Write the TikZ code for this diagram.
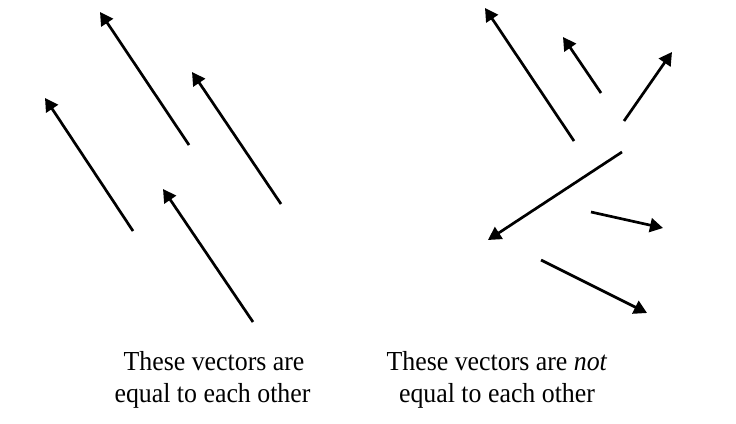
\documentclass[tikz,border=0pt]{standalone}
\usepackage{fontspec}
\usepackage{graphicx}
\setmainfont{Liberation Serif}
\usetikzlibrary{arrows.meta}
\newcommand{\capt}[1]{\scalebox{0.94}[1]{#1}}
\begin{document}
\begin{tikzpicture}[x=1pt,y=-1pt,
  vec/.style={line width=2.7pt,-{Triangle[length=13pt,width=14pt]}},
  caption/.style={anchor=base,inner sep=0pt,font=\fontsize{27.5}{30}\selectfont}]
\useasboundingbox (0,0) rectangle (736,423);
% left: equal vectors
\coordinate (a1) at (133,231); \coordinate (a2) at (45,98);
\coordinate (b1) at (189,145); \coordinate (b2) at (100,12);
\coordinate (c1) at (281,204); \coordinate (c2) at (192,72);
\coordinate (d1) at (253,322); \coordinate (d2) at (163,189);
\draw[vec] (a1) -- (a2);
\draw[vec] (b1) -- (b2);
\draw[vec] (c1) -- (c2);
\draw[vec] (d1) -- (d2);
% right: unequal vectors
\coordinate (r1a) at (574,141); \coordinate (r1b) at (485,8);
\coordinate (r2a) at (601,93);  \coordinate (r2b) at (563,37);
\coordinate (r3a) at (624,121); \coordinate (r3b) at (672,52);
\coordinate (r4a) at (622,152); \coordinate (r4b) at (488,240);
\coordinate (r5a) at (591,212); \coordinate (r5b) at (663,228);
\coordinate (r6a) at (541,260); \coordinate (r6b) at (647,313);
\draw[vec] (r1a) -- (r1b);
\draw[vec] (r2a) -- (r2b);
\draw[vec] (r3a) -- (r3b);
\draw[vec] (r4a) -- (r4b);
\draw[vec] (r5a) -- (r5b);
\draw[vec] (r6a) -- (r6b);
% captions
\node[caption] (l1) at (214,370.5) {\capt{These vectors are}};
\node[caption] (l2) at (212.5,402) {\capt{equal to each other}};
\node[caption] (q1) at (497,370.5) {\capt{These vectors are \textit{not}}};
\node[caption] (q2) at (497,402) {\capt{equal to each other}};
\end{tikzpicture}
\end{document}
